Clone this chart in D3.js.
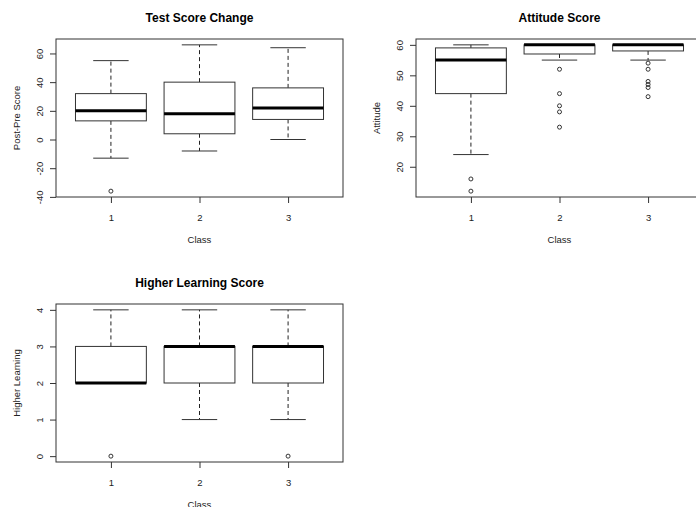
<!DOCTYPE html>
<html>
<head>
<meta charset="utf-8">
<script src="https://d3js.org/d3.v7.min.js"></script>
<style>
  body { margin: 0; background: #fff; }
  svg text { font-family: "Liberation Sans", Arial, sans-serif; fill: #222; }
</style>
</head>
<body>
<div id="chart"></div>
<script>
// Box statistics per class: [lower whisker, Q1, median, Q3, upper whisker]
var classes = ["1", "2", "3"];

var testStats = [[-13, 13, 20, 32, 55], [-8, 4, 18, 40, 66], [0, 14, 22, 36, 64]];
var testOutliers = [[-36], [], []];
var testTicks = [-40, -20, 0, 20, 40, 60];

var attitudeStats = [[24, 44, 55, 59, 60], [55, 57, 60, 60, 60], [55, 58, 60, 60, 60]];
var attitudeOutliers = [[16, 12], [52, 44, 40, 38, 33], [54, 52, 48, 47, 46, 43]];
var attitudeTicks = [20, 30, 40, 50, 60];

var higherStats = [[2, 2, 2, 3, 4], [1, 2, 3, 3, 4], [1, 2, 3, 3, 4]];
var higherOutliers = [[0], [], [0]];
var higherTicks = [0, 1, 2, 3, 4];

var svg = d3.select("#chart").append("svg")
	.attr("width", 696)
	.attr("height", 507);

function drawBoxplot(opts) {
	var stats = opts.stats, outliers = opts.outliers;
	var g = svg.append("g").attr("transform", "translate(" + opts.left + "," + opts.top + ")");

	// R style ranges: 4% padding on y, boxes at 1..n with 0.5 margin plus 4%
	var all = d3.merge(stats).concat(d3.merge(outliers));
	var lo = d3.min(all), hi = d3.max(all), pad = (hi - lo) * 0.04;
	var y = d3.scaleLinear().domain([lo - pad, hi + pad]).range([opts.height, 0]);
	var n = stats.length, xpad = n * 0.04;
	var x = d3.scaleLinear().domain([0.5 - xpad, n + 0.5 + xpad]).range([0, opts.width]);

	var boxes = g.selectAll(".box")
		.data(stats)
		.enter()
		.append("g")
			.attr("class", "box");

	// dashed whiskers
	boxes.append("line")
		.attr("x1", function(d, i) { return x(i + 1); })
		.attr("x2", function(d, i) { return x(i + 1); })
		.attr("y1", function(d) { return y(d[3]); })
		.attr("y2", function(d) { return y(d[4]); })
		.style("stroke", "#222").style("stroke-dasharray", "4,3");
	boxes.append("line")
		.attr("x1", function(d, i) { return x(i + 1); })
		.attr("x2", function(d, i) { return x(i + 1); })
		.attr("y1", function(d) { return y(d[1]); })
		.attr("y2", function(d) { return y(d[0]); })
		.style("stroke", "#222").style("stroke-dasharray", "4,3");

	// staples
	[0, 4].forEach(function(k) {
		boxes.append("line")
			.attr("x1", function(d, i) { return x(i + 1 - 0.2); })
			.attr("x2", function(d, i) { return x(i + 1 + 0.2); })
			.attr("y1", function(d) { return y(d[k]); })
			.attr("y2", function(d) { return y(d[k]); })
			.style("stroke", "#333");
	});

	boxes.append("rect")
		.attr("x", function(d, i) { return x(i + 1 - 0.4); })
		.attr("width", function(d, i) { return x(i + 1 + 0.4) - x(i + 1 - 0.4); })
		.attr("y", function(d) { return y(d[3]); })
		.attr("height", function(d) { return y(d[1]) - y(d[3]); })
		.style("fill", "#fff")
		.style("stroke", "#333");

	// median
	boxes.append("line")
		.attr("x1", function(d, i) { return x(i + 1 - 0.4); })
		.attr("x2", function(d, i) { return x(i + 1 + 0.4); })
		.attr("y1", function(d) { return y(d[2]); })
		.attr("y2", function(d) { return y(d[2]); })
		.style("stroke", "#000")
		.style("stroke-width", 3);

	boxes.each(function(d, i) {
		d3.select(this).selectAll("circle")
			.data(outliers[i])
			.enter()
			.append("circle")
				.attr("cx", x(i + 1))
				.attr("cy", function(v) { return y(v); })
				.attr("r", 2)
				.style("fill", "none")
				.style("stroke", "#333");
	});

	// frame
	g.append("rect")
		.attr("width", opts.width)
		.attr("height", opts.height)
		.style("fill", "none")
		.style("stroke", "#333");

	var yAxis = g.append("g")
		.call(d3.axisLeft(y).tickValues(opts.ticks).tickSize(6)
			.tickFormat(function(d) { return String(d); }));
	yAxis.select(".domain").remove();
	yAxis.selectAll("line").style("stroke", "#333");
	yAxis.selectAll("text")
		.attr("transform", "rotate(-90)")
		.attr("x", 0)
		.attr("y", -13)
		.attr("dy", 0)
		.attr("text-anchor", "middle")
		.style("font-size", "9.5px");

	var xAxis = g.append("g")
		.attr("transform", "translate(0," + opts.height + ")")
		.call(d3.axisBottom(x).tickValues([1, 2, 3]).tickSize(6)
			.tickFormat(function(d) { return classes[d - 1]; }));
	xAxis.select(".domain").remove();
	xAxis.selectAll("line").style("stroke", "#333");
	xAxis.selectAll("text")
		.attr("y", 0)
		.attr("dy", 24)
		.style("font-size", "9.5px");

	g.append("text")
		.attr("x", opts.width / 2)
		.attr("y", -17.5)
		.attr("text-anchor", "middle")
		.style("font-size", "12px")
		.style("font-weight", "bold")
		.style("fill", "#000")
		.text(opts.title);

	g.append("text")
		.attr("x", opts.width / 2)
		.attr("y", opts.height + 46)
		.attr("text-anchor", "middle")
		.style("font-size", "9.5px")
		.text("Class");

	g.append("text")
		.attr("transform", "translate(-36," + (opts.height / 2) + ") rotate(-90)")
		.attr("text-anchor", "middle")
		.style("font-size", "9.5px")
		.text(opts.ylab);
}

drawBoxplot({left: 56, top: 39, width: 287, height: 158, title: "Test Score Change",
	ylab: "Post-Pre Score", stats: testStats, outliers: testOutliers, ticks: testTicks});
drawBoxplot({left: 416, top: 39, width: 287, height: 158, title: "Attitude Score",
	ylab: "Attitude", stats: attitudeStats, outliers: attitudeOutliers, ticks: attitudeTicks});
drawBoxplot({left: 56, top: 304, width: 287, height: 158, title: "Higher Learning Score",
	ylab: "Higher Learning", stats: higherStats, outliers: higherOutliers, ticks: higherTicks});
</script>
</body>
</html>
